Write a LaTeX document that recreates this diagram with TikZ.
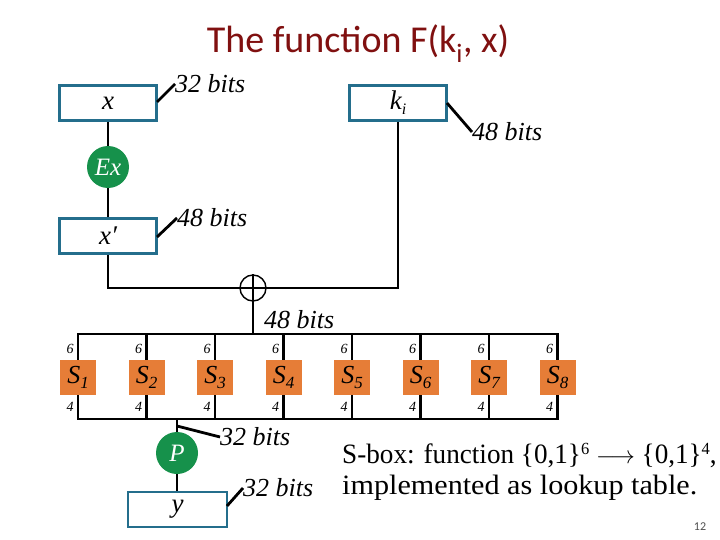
\documentclass[tikz,border=0pt]{standalone}
\usepackage{fontspec}
\setmainfont{Liberation Serif}
\newfontfamily\titlefont{Carlito}
\usetikzlibrary{calc}
\definecolor{titlered}{RGB}{128,16,16}
\definecolor{boxblue}{RGB}{36,110,140}
\definecolor{pgreen}{RGB}{22,145,75}
\definecolor{sorange}{RGB}{230,125,55}
\definecolor{pagegray}{RGB}{80,80,80}
\begin{document}
\begin{tikzpicture}[x=1pt,y=-1pt,
 regbox/.style={draw=boxblue,line width=2.8pt,fill=white,minimum width=97pt,minimum height=35pt,inner sep=0pt,font=\fontsize{27}{27}\selectfont\itshape},
 opcirc/.style={circle,fill=pgreen,minimum size=42pt,inner sep=0pt,text=white,font=\fontsize{25}{25}\selectfont\itshape},
 sbox/.style={fill=sorange,minimum width=36pt,minimum height=35pt,inner sep=0pt,font=\fontsize{26}{26}\selectfont\itshape},
 wire/.style={line width=2.8pt},
 bitlbl/.style={anchor=west,inner sep=0pt,font=\fontsize{26}{26}\selectfont\itshape},
 smalllbl/.style={inner sep=0pt,font=\fontsize{14}{14}\selectfont\itshape},
 ticklink/.style={line width=2.8pt},
 bodytext/.style={anchor=base west,inner sep=0pt,font=\fontsize{28}{28}\selectfont}
]
\useasboundingbox (0,0) rectangle (720,540);
\fill[white] (0,0) rectangle (720,540);

% title
\node[anchor=base,inner sep=0pt,text=titlered,font=\titlefont\fontsize{38}{38}\selectfont] (title) at (358,53) {The function F(k\textsubscript{i}, x)};

% registers and operations
\node[regbox] (x) at (108,103) {x};
\node[regbox] (k) at (398,103) {k\raisebox{-5pt}{\fontsize{16}{16}\selectfont i}};
\node[opcirc] (ex) at (108,167) {Ex};
\node[regbox] (xp) at (108,236) {x′};
\node[circle,draw,line width=1.4pt,minimum size=26pt,inner sep=0pt] (xor) at (253,288) {};
\draw[line width=1.4pt] (xor.north) -- (xor.south) (xor.west) -- (xor.east);

\draw[wire] (x) -- (ex);
\draw[wire] (ex) -- (xp);
\draw[wire] (xp.south) |- (xor.west);
\draw[wire] (k.south) |- (xor.east);
\coordinate (topbus) at (253,334);
\draw[wire] (xor.south) -- (topbus);

% S-boxes
\foreach \i/\xx in {1/78,2/146.5,3/215,4/283.5,5/352,6/420.5,7/489,8/557.5} {
  \node[sbox] (s\i) at (\xx,377.5) {S\raisebox{-5pt}{\fontsize{17}{17}\selectfont\itshape\i}};
  \coordinate (t\i) at (\xx,334);
  \coordinate (b\i) at (\xx,419);
  \draw[wire] (t\i) -- (s\i.north);
  \draw[wire] (s\i.south) -- (b\i);
  \node[smalllbl] (six\i) at (\xx-8,349) {6};
  \node[smalllbl] (four\i) at (\xx-8,407) {4};
}
\draw[wire,line cap=rect] (t1) -- (t8);
\draw[wire,line cap=rect] (b1) -- (b8);

% permutation and output
\node[opcirc] (p) at (177,453) {P};
\coordinate (pb) at (177,419);
\draw[wire] (pb) -- (p.north);
\node[regbox,minimum width=99pt] (y) at (177.5,509.5) {y};
\draw[wire] (p) -- (y.north -| p);

% bit-width labels
\coordinate (l1a) at (157,102); \coordinate (l1) at (175,84);
\draw[ticklink] (l1a) -- (l1); \node[bitlbl] (lb1) at (l1) {32 bits};
\coordinate (l2a) at (447,103); \coordinate (l2) at (472,132);
\draw[ticklink] (l2a) -- (l2); \node[bitlbl] (lb2) at (l2) {48 bits};
\coordinate (l3a) at (157,237); \coordinate (l3) at (177,218);
\draw[ticklink] (l3a) -- (l3); \node[bitlbl] (lb3) at (l3) {48 bits};
\node[bitlbl] (lb4) at (264,320) {48 bits};
\coordinate (l5a) at (177,426); \coordinate (l5) at (220,437);
\draw[ticklink] (l5a) -- (l5); \node[bitlbl] (lb5) at (l5) {32 bits};
\coordinate (l6a) at (227,506); \coordinate (l6) at (243,488);
\draw[ticklink] (l6a) -- (l6); \node[bitlbl] (lb6) at (l6) {32 bits};

% explanation
\node[bodytext] (txt1) at (342,463) {\scalebox{0.97}[1]{S-box: function \{0,1\}\raisebox{9pt}{\fontsize{17}{17}\selectfont 6} $\longrightarrow$ \{0,1\}\raisebox{9pt}{\fontsize{17}{17}\selectfont 4},}};
\node[bodytext] (txt2) at (342,494) {\scalebox{1.077}[1]{implemented as lookup table.}};

\node[inner sep=0pt,text=pagegray,font=\titlefont\fontsize{12}{12}\selectfont] (pg) at (700,527) {12};
\end{tikzpicture}
\end{document}
